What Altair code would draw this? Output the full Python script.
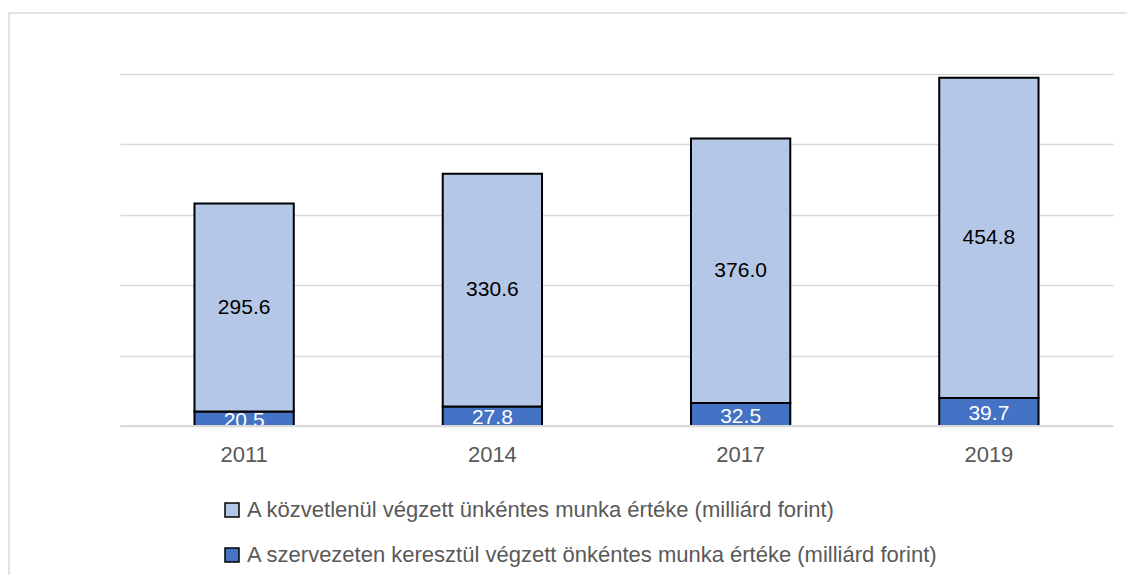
import altair as alt
import pandas as pd

years = ["2011", "2014", "2017", "2019"]
direct_values = [295.6, 330.6, 376.0, 454.8]
org_values = [20.5, 27.8, 32.5, 39.7]
series_direct = "A közvetlenül végzett ünkéntes munka értéke (milliárd forint)"
series_org = "A szervezeten keresztül végzett önkéntes munka értéke (milliárd forint)"
y_ticks = [0, 100, 200, 300, 400, 500]

rows = []
for y, d, o in zip(years, direct_values, org_values):
    rows.append({"year": y, "series": series_org, "value": o, "ord": 0})
    rows.append({"year": y, "series": series_direct, "value": d, "ord": 1})
df = pd.DataFrame(rows)

FONT = "Liberation Sans"
LIGHT = "#b4c7e7"
DARK = "#4472c4"

base = alt.Chart(df)

x_enc = alt.X(
    "year:N",
    sort=years,
    title=None,
    scale=alt.Scale(paddingInner=0.6, paddingOuter=0.3),
    axis=alt.Axis(
        labelAngle=0, ticks=False, domain=False, labelFontSize=22,
        labelColor="#595959", labelFont=FONT, labelPadding=18, grid=False,
    ),
)

y_scale = alt.Scale(domain=[0, 500], nice=False)

bars = base.mark_bar(stroke="black", strokeWidth=2).encode(
    x=x_enc,
    y=alt.Y(
        "value:Q",
        stack="zero",
        title=None,
        scale=y_scale,
        axis=alt.Axis(
            values=y_ticks, labels=False, ticks=False, domain=False,
            grid=True, gridColor="#d9d9d9", gridWidth=1.5,
        ),
    ),
    color=alt.Color(
        "series:N",
        scale=alt.Scale(domain=[series_direct, series_org], range=[LIGHT, DARK]),
        legend=alt.Legend(
            title=None, orient="none", legendX=101, legendY=425,
            direction="vertical", symbolType="square", symbolSize=196,
            symbolStrokeColor="black", symbolStrokeWidth=1.5,
            labelFontSize=22, labelColor="#595959", labelFont=FONT,
            labelOffset=4, rowPadding=23, padding=0, labelLimit=1000,
        ),
    ),
    order=alt.Order("ord:Q"),
)

stacked = base.transform_stack(
    stack="value", groupby=["year"], as_=["y0", "y1"],
    sort=[alt.SortField("ord", order="ascending")],
).transform_calculate(mid="(datum.y0 + datum.y1) / 2")

labels_light = stacked.transform_filter(alt.datum.ord == 1).mark_text(
    fontSize=21, font=FONT, color="black", baseline="middle"
).encode(
    x=alt.X("year:N", sort=years),
    y=alt.Y("mid:Q"),
    text=alt.Text("value:Q", format=".1f"),
)

labels_dark = stacked.transform_filter(alt.datum.ord == 0).mark_text(
    fontSize=21, font=FONT, color="white", baseline="middle", dy=2
).encode(
    x=alt.X("year:N", sort=years),
    y=alt.Y("mid:Q"),
    text=alt.Text("value:Q", format=".1f"),
)

frame_df = pd.DataFrame({"a": [0]})
baseline = alt.Chart(frame_df).mark_rule(color="#d9d9d9", strokeWidth=2).encode(
    x=alt.value(0), x2=alt.value(993), y=alt.datum(0, scale=y_scale)
)
frame = alt.Chart(frame_df).mark_rect(
    fill="transparent", stroke="#d9d9d9", strokeWidth=1.5
).encode(
    x=alt.value(-111), x2=alt.value(1300), y=alt.value(-61), y2=alt.value(700)
)

chart = alt.layer(bars, labels_light, labels_dark, baseline, frame).properties(
    width=993,
    height=352,
    autosize=alt.AutoSizeParams(type="none"),
    padding={"left": 112, "top": 66, "right": 14, "bottom": 149},
    background="white",
).configure_view(strokeWidth=0, stroke="transparent")

chart.save("out.html", embed_options={"renderer": "svg", "actions": False})
